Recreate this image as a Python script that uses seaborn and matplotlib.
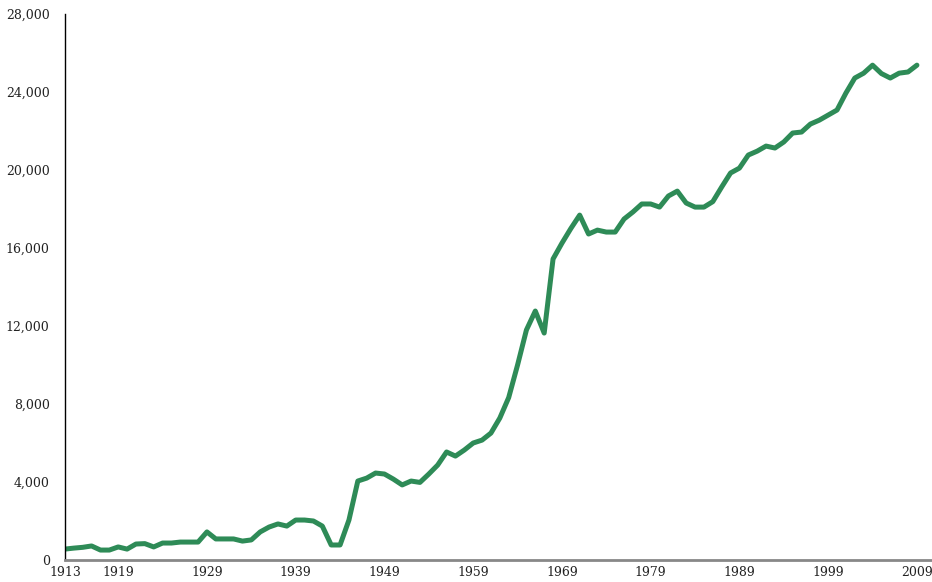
import seaborn as sns
import pandas as pd
import matplotlib.pyplot as plt
from matplotlib.ticker import FuncFormatter

years = list(range(1913, 2010))
values = [560, 610, 650, 720, 510, 510, 670, 560, 820, 840,
          670, 870, 870, 920, 920, 920, 1440, 1080, 1080, 1080,
          970, 1030, 1440, 1690, 1850, 1740, 2050, 2050, 2000, 1740,
          770, 770, 2050, 4050, 4200, 4460, 4410, 4150, 3850, 4050,
          3980, 4410, 4870, 5540, 5330, 5640, 6000, 6150, 6510, 7280,
          8330, 10000, 11800, 12770, 11640, 15440, 16250, 17000, 17690, 16720,
          16920, 16820, 16820, 17490, 17850, 18260, 18260, 18100, 18670, 18920,
          18310, 18100, 18100, 18380, 19130, 19850, 20100, 20770, 20970, 21230,
          21130, 21440, 21900, 21950, 22360, 22560, 22820, 23080, 23950, 24720,
          24970, 25380, 24950, 24720, 24970, 25030, 25380]
xticks = [1913, 1919, 1929, 1939, 1949, 1959, 1969, 1979, 1989, 1999, 2009]
yticks = list(range(0, 28001, 4000))

df = pd.DataFrame({"year": years, "value": values})

sns.set_style("white")
plt.rcParams['font.family'] = ['DejaVu Serif']

fig = plt.figure(figsize=(9.32, 5.82), dpi=100)
ax = fig.add_axes([0.0697, 0.0378, 0.9303, 0.938])

sns.lineplot(data=df, x="year", y="value", ax=ax, color="#2e8b57", linewidth=3.6)

ax.set_xlim(1913, 2010.7)
ax.set_ylim(0, 28000)
ax.set_xticks(xticks)
ax.set_yticks(yticks)
ax.yaxis.set_major_formatter(FuncFormatter(lambda v, p: f"{int(v):,}"))
ax.tick_params(axis="both", length=0, labelsize=9, colors="#222222")
ax.tick_params(axis="y", pad=11)
ax.tick_params(axis="x", pad=4)
ax.set_xlabel("")
ax.set_ylabel("")

for s in ["top", "right"]:
    ax.spines[s].set_visible(False)
ax.spines["left"].set_color("black")
ax.spines["left"].set_linewidth(1.0)
ax.spines["bottom"].set_color("#888888")
ax.spines["bottom"].set_linewidth(2.0)

fig.savefig("out.png", dpi=100)
